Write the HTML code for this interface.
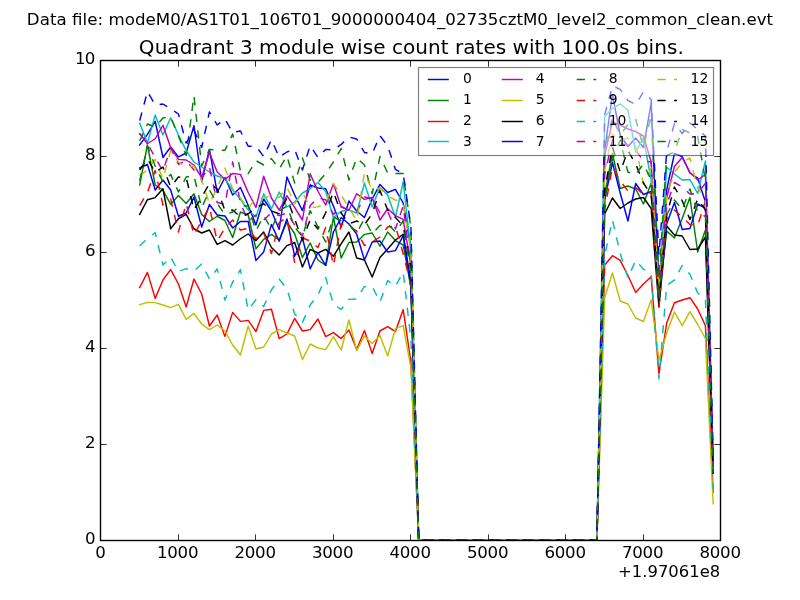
<!DOCTYPE html>
<html><head><meta charset="utf-8"><title>Quadrant 3 module wise count rates</title>
<style>html,body{margin:0;padding:0;background:#fff;}svg{display:block;}text{font-family:"DejaVu Sans","Liberation Sans",sans-serif;fill:#000;}</style></head><body>
<svg width="800" height="600" viewBox="0 0 800 600">
<rect width="800" height="600" fill="#fff"/>
<defs><clipPath id="ax"><rect x="100" y="60" width="620" height="480"/></clipPath></defs>
<g clip-path="url(#ax)" fill="none" stroke-width="1.45" stroke-linejoin="round">
<polyline points="139.68,145.00 147.43,134.40 155.18,121.25 162.93,157.50 170.68,147.00 178.43,156.90 186.18,153.00 193.93,125.60 201.68,181.25 209.43,149.40 217.18,192.50 224.93,177.50 232.68,195.00 240.43,187.50 248.18,205.30 255.93,225.00 263.68,199.00 271.43,211.00 279.18,229.50 286.93,177.00 294.68,195.00 302.43,210.60 310.18,185.00 317.93,188.00 325.68,188.75 333.43,206.00 341.18,227.00 348.93,201.00 356.68,211.00 364.43,217.50 372.18,199.00 379.93,184.40 387.68,192.50 395.43,189.40 403.18,203.00 410.93,247.77 418.68,540.00 596.93,540.00 604.68,150.00 612.43,94.50 620.18,135.00 627.93,146.50 635.68,138.00 643.43,147.50 651.18,103.00 658.93,285.00 666.68,190.00 674.43,153.50 682.18,156.50 689.93,173.00 697.68,178.00 705.43,202.00 713.18,468.00" stroke="#0000ff" stroke-linecap="square"/>
<polyline points="139.68,185.00 147.43,145.00 155.18,185.00 162.93,190.00 170.68,204.40 178.43,195.60 186.18,203.50 193.93,193.75 201.68,214.40 209.43,221.50 217.18,216.25 224.93,220.50 232.68,237.50 240.43,212.00 248.18,215.00 255.93,248.75 263.68,239.40 271.43,234.40 279.18,240.00 286.93,222.00 294.68,233.75 302.43,257.50 310.18,243.00 317.93,260.00 325.68,265.30 333.43,217.00 341.18,258.00 348.93,242.50 356.68,242.00 364.43,234.40 372.18,233.00 379.93,246.25 387.68,232.00 395.43,240.60 403.18,245.00 410.93,287.38 418.68,540.00 596.93,540.00 604.68,195.00 612.43,153.50 620.18,188.50 627.93,186.00 635.68,189.00 643.43,204.00 651.18,183.00 658.93,298.00 666.68,231.00 674.43,238.00 682.18,218.50 689.93,197.50 697.68,252.00 705.43,230.00 713.18,473.00" stroke="#008000" stroke-linecap="square"/>
<polyline points="139.68,287.60 147.43,272.40 155.18,298.40 162.93,280.00 170.68,269.60 178.43,284.00 186.18,307.00 193.93,279.00 201.68,294.00 209.43,326.00 217.18,315.00 224.93,336.40 232.68,312.40 240.43,321.40 248.18,320.40 255.93,331.60 263.68,310.40 271.43,309.20 279.18,338.60 286.93,334.00 294.68,318.40 302.43,331.00 310.18,329.60 317.93,319.00 325.68,336.60 333.43,332.60 341.18,338.60 348.93,330.00 356.68,349.60 364.43,330.60 372.18,353.60 379.93,331.00 387.68,326.60 395.43,331.60 403.18,309.60 410.93,362.00 418.68,540.00 596.93,540.00 604.68,265.00 612.43,255.70 620.18,260.30 627.93,275.50 635.68,292.50 643.43,284.00 651.18,276.70 658.93,374.00 666.68,323.00 674.43,302.80 682.18,300.00 689.93,297.70 697.68,309.00 705.43,325.70 713.18,492.00" stroke="#ff0000" stroke-linecap="square"/>
<polyline points="139.68,123.10 147.43,143.10 155.18,115.00 162.93,135.00 170.68,117.75 178.43,135.00 186.18,150.60 193.93,162.00 201.68,167.00 209.43,172.00 217.18,176.00 224.93,178.75 232.68,190.00 240.43,199.40 248.18,210.00 255.93,217.00 263.68,193.75 271.43,208.75 279.18,192.00 286.93,207.00 294.68,202.00 302.43,193.00 310.18,188.75 317.93,182.50 325.68,191.50 333.43,217.50 341.18,211.25 348.93,210.00 356.68,213.00 364.43,183.00 372.18,207.00 379.93,187.50 387.68,195.00 395.43,217.50 403.18,182.00 410.93,250.79 418.68,540.00 596.93,540.00 604.68,116.50 612.43,108.30 620.18,104.00 627.93,110.00 635.68,152.00 643.43,138.00 651.18,180.00 658.93,295.00 666.68,167.00 674.43,174.00 682.18,180.00 689.93,179.50 697.68,193.50 705.43,161.00 713.18,465.00" stroke="#00bfbf" stroke-linecap="square"/>
<polyline points="139.68,133.75 147.43,143.75 155.18,138.75 162.93,125.25 170.68,147.50 178.43,159.40 186.18,160.00 193.93,165.00 201.68,177.50 209.43,152.50 217.18,172.00 224.93,179.40 232.68,173.50 240.43,174.40 248.18,192.50 255.93,207.50 263.68,176.25 271.43,198.00 279.18,210.00 286.93,195.60 294.68,207.50 302.43,220.00 310.18,173.75 317.93,191.25 325.68,205.00 333.43,183.75 341.18,207.00 348.93,210.00 356.68,193.75 364.43,199.40 372.18,197.50 379.93,220.00 387.68,208.75 395.43,215.60 403.18,219.40 410.93,265.88 418.68,540.00 596.93,540.00 604.68,155.00 612.43,122.00 620.18,125.00 627.93,129.00 635.68,131.50 643.43,136.00 651.18,162.00 658.93,290.00 666.68,198.00 674.43,166.50 682.18,157.50 689.93,172.50 697.68,180.00 705.43,174.50 713.18,466.00" stroke="#bf00bf" stroke-linecap="square"/>
<polyline points="139.68,304.60 147.43,302.40 155.18,302.60 162.93,305.00 170.68,307.60 178.43,304.40 186.18,319.40 193.93,313.40 201.68,324.00 209.43,329.60 217.18,325.00 224.93,331.00 232.68,345.00 240.43,355.00 248.18,326.00 255.93,349.00 263.68,347.00 271.43,334.00 279.18,329.60 286.93,333.00 294.68,336.00 302.43,359.60 310.18,344.00 317.93,348.00 325.68,349.60 333.43,336.60 341.18,350.00 348.93,320.00 356.68,350.60 364.43,336.00 372.18,343.40 379.93,335.60 387.68,356.00 395.43,328.60 403.18,325.60 410.93,368.00 418.68,540.00 596.93,540.00 604.68,297.70 612.43,273.00 620.18,301.00 627.93,304.00 635.68,318.00 643.43,321.50 651.18,300.00 658.93,360.00 666.68,333.00 674.43,312.00 682.18,325.70 689.93,311.70 697.68,324.50 705.43,338.50 713.18,503.75" stroke="#bfbf00" stroke-linecap="square"/>
<polyline points="139.68,214.40 147.43,199.75 155.18,197.60 162.93,188.75 170.68,228.75 178.43,218.75 186.18,214.40 193.93,228.75 201.68,233.00 209.43,230.00 217.18,244.40 224.93,240.60 232.68,245.00 240.43,238.75 248.18,234.00 255.93,240.60 263.68,232.00 271.43,247.50 279.18,255.00 286.93,245.60 294.68,242.50 302.43,267.00 310.18,249.40 317.93,253.00 325.68,249.40 333.43,256.25 341.18,243.75 348.93,232.00 356.68,258.00 364.43,260.00 372.18,277.00 379.93,257.50 387.68,249.00 395.43,240.00 403.18,234.40 410.93,282.62 418.68,540.00 596.93,540.00 604.68,214.00 612.43,198.00 620.18,208.50 627.93,203.00 635.68,199.00 643.43,197.50 651.18,208.50 658.93,307.00 666.68,226.00 674.43,235.00 682.18,236.00 689.93,249.50 697.68,249.00 705.43,237.00 713.18,472.50" stroke="#000000" stroke-linecap="square"/>
<polyline points="139.68,168.00 147.43,164.50 155.18,190.00 162.93,180.00 170.68,190.00 178.43,216.25 186.18,213.00 193.93,197.00 201.68,227.00 209.43,204.50 217.18,215.00 224.93,216.00 232.68,228.00 240.43,221.50 248.18,221.50 255.93,260.60 263.68,251.90 271.43,224.40 279.18,241.25 286.93,219.00 294.68,256.25 302.43,238.00 310.18,268.75 317.93,252.50 325.68,265.50 333.43,232.00 341.18,217.50 348.93,224.00 356.68,234.00 364.43,260.00 372.18,242.00 379.93,241.00 387.68,252.00 395.43,250.60 403.18,235.60 410.93,287.63 418.68,540.00 596.93,540.00 604.68,200.00 612.43,162.50 620.18,193.00 627.93,221.00 635.68,183.50 643.43,194.50 651.18,191.50 658.93,300.00 666.68,224.00 674.43,202.50 682.18,229.50 689.93,228.50 697.68,204.00 705.43,208.00 713.18,472.00" stroke="#0000ff" stroke-linecap="square"/>
<polyline points="139.68,141.00 147.43,124.00 155.18,127.00 162.93,118.00 170.68,117.00 178.43,136.00 186.18,155.60 193.93,95.80 201.68,166.00 209.43,149.40 217.18,150.00 224.93,150.30 232.68,134.00 240.43,171.00 248.18,173.75 255.93,160.60 263.68,165.00 271.43,158.60 279.18,169.00 286.93,156.00 294.68,183.00 302.43,158.00 310.18,180.00 317.93,182.50 325.68,173.50 333.43,162.00 341.18,148.50 348.93,180.00 356.68,158.00 364.43,165.00 372.18,193.75 379.93,156.60 387.68,173.00 395.43,173.50 403.18,173.40 410.93,228.43 418.68,540.00 596.93,540.00 604.68,150.00 612.43,118.00 620.18,135.00 627.93,124.50 635.68,119.50 643.43,147.00 651.18,115.50 658.93,280.00 666.68,155.50 674.43,152.00 682.18,129.50 689.93,133.00 697.68,136.50 705.43,180.00 713.18,462.00" stroke="#008000" stroke-dasharray="8.33 8.33" stroke-linecap="butt"/>
<polyline points="139.68,205.60 147.43,192.50 155.18,170.50 162.93,205.00 170.68,199.00 178.43,232.00 186.18,203.50 193.93,235.00 201.68,220.60 209.43,207.00 217.18,241.00 224.93,228.00 232.68,220.00 240.43,230.00 248.18,228.50 255.93,238.75 263.68,233.00 271.43,253.50 279.18,222.50 286.93,217.50 294.68,263.00 302.43,238.00 310.18,241.00 317.93,247.50 325.68,227.50 333.43,265.60 341.18,223.75 348.93,225.60 356.68,231.00 364.43,245.60 372.18,242.00 379.93,237.00 387.68,227.00 395.43,226.00 403.18,253.75 410.93,285.00 418.68,540.00 596.93,540.00 604.68,210.00 612.43,167.00 620.18,181.00 627.93,191.00 635.68,187.50 643.43,194.50 651.18,192.50 658.93,307.00 666.68,219.00 674.43,210.00 682.18,217.00 689.93,224.50 697.68,225.50 705.43,201.00 713.18,476.00" stroke="#ff0000" stroke-dasharray="8.33 8.33" stroke-linecap="butt"/>
<polyline points="139.68,246.00 147.43,238.50 155.18,232.70 162.93,265.00 170.68,257.00 178.43,271.60 186.18,268.60 193.93,271.00 201.68,264.00 209.43,279.00 217.18,269.00 224.93,300.00 232.68,282.00 240.43,269.60 248.18,310.00 255.93,299.60 263.68,306.40 271.43,290.00 279.18,279.00 286.93,289.00 294.68,314.00 302.43,322.40 310.18,305.00 317.93,295.00 325.68,277.60 333.43,304.40 341.18,309.40 348.93,299.40 356.68,299.00 364.43,286.40 372.18,286.40 379.93,302.00 387.68,280.60 395.43,286.40 403.18,272.00 410.93,340.00 418.68,540.00 596.93,540.00 604.68,255.70 612.43,220.00 620.18,253.30 627.93,277.80 635.68,260.30 643.43,269.20 651.18,273.90 658.93,379.00 666.68,285.50 674.43,280.20 682.18,265.50 689.93,274.30 697.68,293.00 705.43,298.80 713.18,489.00" stroke="#00bfbf" stroke-dasharray="8.33 8.33" stroke-linecap="butt"/>
<polyline points="139.68,133.50 147.43,143.50 155.18,157.50 162.93,171.00 170.68,148.00 178.43,164.40 186.18,160.60 193.93,170.00 201.68,178.00 209.43,167.00 217.18,202.50 224.93,204.40 232.68,162.00 240.43,203.00 248.18,221.00 255.93,215.00 263.68,220.00 271.43,212.50 279.18,215.60 286.93,213.00 294.68,225.00 302.43,236.00 310.18,205.50 317.93,198.00 325.68,199.75 333.43,214.40 341.18,206.00 348.93,211.00 356.68,212.00 364.43,197.00 372.18,198.40 379.93,213.00 387.68,211.50 395.43,229.00 403.18,206.00 410.93,265.88 418.68,540.00 596.93,540.00 604.68,175.00 612.43,140.00 620.18,143.50 627.93,145.00 635.68,150.00 643.43,161.00 651.18,162.00 658.93,295.00 666.68,205.00 674.43,182.50 682.18,187.00 689.93,194.00 697.68,194.00 705.43,183.00 713.18,470.00" stroke="#bf00bf" stroke-dasharray="8.33 8.33" stroke-linecap="butt"/>
<polyline points="139.68,175.60 147.43,170.00 155.18,159.40 162.93,179.00 170.68,150.60 178.43,162.00 186.18,167.00 193.93,166.00 201.68,180.00 209.43,203.75 217.18,188.00 224.93,168.00 232.68,188.75 240.43,198.00 248.18,208.75 255.93,197.50 263.68,198.00 271.43,195.60 279.18,197.50 286.93,187.25 294.68,203.75 302.43,192.50 310.18,207.50 317.93,206.90 325.68,203.00 333.43,183.75 341.18,195.00 348.93,208.00 356.68,220.60 364.43,173.00 372.18,190.00 379.93,188.00 387.68,196.00 395.43,200.00 403.18,203.00 410.93,252.27 418.68,540.00 596.93,540.00 604.68,170.00 612.43,134.00 620.18,141.00 627.93,138.00 635.68,146.00 643.43,184.00 651.18,168.00 658.93,290.00 666.68,195.00 674.43,172.50 682.18,162.50 689.93,158.00 697.68,188.00 705.43,198.00 713.18,470.00" stroke="#bfbf00" stroke-dasharray="8.33 8.33" stroke-linecap="butt"/>
<polyline points="139.68,170.00 147.43,158.75 155.18,172.50 162.93,167.00 170.68,187.00 178.43,177.00 186.18,177.50 193.93,210.00 201.68,197.00 209.43,183.75 217.18,188.75 224.93,210.60 232.68,210.00 240.43,217.00 248.18,213.75 255.93,208.00 263.68,203.75 271.43,211.00 279.18,213.75 286.93,198.00 294.68,219.00 302.43,240.60 310.18,219.50 317.93,229.00 325.68,212.75 333.43,192.00 341.18,213.00 348.93,223.75 356.68,221.00 364.43,224.75 372.18,213.75 379.93,190.60 387.68,210.00 395.43,217.50 403.18,226.00 410.93,269.49 418.68,540.00 596.93,540.00 604.68,190.00 612.43,147.00 620.18,172.00 627.93,150.50 635.68,164.00 643.43,183.00 651.18,195.00 658.93,300.00 666.68,215.00 674.43,187.00 682.18,200.75 689.93,219.50 697.68,199.00 705.43,210.00 713.18,474.00" stroke="#000000" stroke-dasharray="8.33 8.33" stroke-linecap="butt"/>
<polyline points="139.68,120.60 147.43,91.60 155.18,105.00 162.93,104.00 170.68,108.90 178.43,114.00 186.18,143.00 193.93,130.00 201.68,147.50 209.43,111.90 217.18,125.00 224.93,119.00 232.68,132.50 240.43,131.00 248.18,146.25 255.93,146.25 263.68,156.50 271.43,139.75 279.18,157.25 286.93,152.00 294.68,149.40 302.43,170.00 310.18,145.60 317.93,157.50 325.68,149.40 333.43,150.00 341.18,144.40 348.93,137.00 356.68,139.00 364.43,152.50 372.18,153.75 379.93,135.60 387.68,146.00 395.43,169.40 403.18,173.75 410.93,226.84 418.68,540.00 596.93,540.00 604.68,115.00 612.43,86.00 620.18,89.30 627.93,100.50 635.68,104.50 643.43,92.00 651.18,99.50 658.93,255.00 666.68,152.00 674.43,123.60 682.18,133.50 689.93,123.00 697.68,129.50 705.43,136.00 713.18,458.00" stroke="#0000ff" stroke-dasharray="8.33 8.33" stroke-linecap="butt"/>
<polyline points="139.68,181.00 147.43,146.00 155.18,166.00 162.93,182.00 170.68,174.40 178.43,192.00 186.18,177.00 193.93,175.60 201.68,208.00 209.43,190.00 217.18,203.50 224.93,214.50 232.68,212.00 240.43,205.60 248.18,206.00 255.93,231.00 263.68,215.60 271.43,229.00 279.18,211.00 286.93,206.00 294.68,227.00 302.43,237.00 310.18,210.60 317.93,227.00 325.68,242.00 333.43,217.00 341.18,221.00 348.93,224.00 356.68,233.00 364.43,218.75 372.18,234.00 379.93,225.60 387.68,223.75 395.43,232.00 403.18,221.00 410.93,273.52 418.68,540.00 596.93,540.00 604.68,200.00 612.43,160.00 620.18,140.00 627.93,172.00 635.68,174.50 643.43,164.00 651.18,180.00 658.93,300.00 666.68,215.00 674.43,200.00 682.18,209.75 689.93,189.00 697.68,212.00 705.43,216.50 713.18,475.00" stroke="#008000" stroke-dasharray="8.33 8.33" stroke-linecap="butt"/>
</g>
<rect x="100.5" y="60.5" width="620" height="480" fill="none" stroke="#000" stroke-width="1.39"/>
<path d="M100.5,540.5v-6.2M100.5,60.5v6.2M178.5,540.5v-6.2M178.5,60.5v6.2M255.5,540.5v-6.2M255.5,60.5v6.2M333.5,540.5v-6.2M333.5,60.5v6.2M410.5,540.5v-6.2M410.5,60.5v6.2M488.5,540.5v-6.2M488.5,60.5v6.2M565.5,540.5v-6.2M565.5,60.5v6.2M643.5,540.5v-6.2M643.5,60.5v6.2M720.5,540.5v-6.2M720.5,60.5v6.2M100.5,540.5h6.2M720.5,540.5h-6.2M100.5,444.5h6.2M720.5,444.5h-6.2M100.5,348.5h6.2M720.5,348.5h-6.2M100.5,252.5h6.2M720.5,252.5h-6.2M100.5,156.5h6.2M720.5,156.5h-6.2M100.5,60.5h6.2M720.5,60.5h-6.2" stroke="#000" stroke-width="0.8" fill="none"/>
<text x="100.60" y="558.3" font-size="16.67" text-anchor="middle">0</text>
<text x="157.00" y="558.3" font-size="16.67" textLength="41.5" lengthAdjust="spacing">1000</text>
<text x="234.50" y="558.3" font-size="16.67" textLength="41.5" lengthAdjust="spacing">2000</text>
<text x="312.00" y="558.3" font-size="16.67" textLength="41.5" lengthAdjust="spacing">3000</text>
<text x="389.50" y="558.3" font-size="16.67" textLength="41.5" lengthAdjust="spacing">4000</text>
<text x="467.00" y="558.3" font-size="16.67" textLength="41.5" lengthAdjust="spacing">5000</text>
<text x="544.50" y="558.3" font-size="16.67" textLength="41.5" lengthAdjust="spacing">6000</text>
<text x="622.00" y="558.3" font-size="16.67" textLength="41.5" lengthAdjust="spacing">7000</text>
<text x="699.50" y="558.3" font-size="16.67" textLength="41.5" lengthAdjust="spacing">8000</text>
<text x="95.6" y="544.10" font-size="16.67" text-anchor="end">0</text>
<text x="95.6" y="448.10" font-size="16.67" text-anchor="end">2</text>
<text x="95.6" y="352.10" font-size="16.67" text-anchor="end">4</text>
<text x="95.6" y="256.10" font-size="16.67" text-anchor="end">6</text>
<text x="95.6" y="160.10" font-size="16.67" text-anchor="end">8</text>
<text x="74.9" y="64.10" font-size="16.67" textLength="20.4" lengthAdjust="spacing">10</text>
<text x="720.2" y="576.6" font-size="16.42" text-anchor="end">+1.97061e8</text>
<text x="138.85" y="53.6" font-size="20" textLength="544.9" lengthAdjust="spacing">Quadrant 3 module wise count rates with 100.0s bins.</text>
<text x="26.85" y="24.5" font-size="16.67" textLength="746.25" lengthAdjust="spacing">Data file: modeM0/AS1T01_106T01_9000000404_02735cztM0_level2_common_clean.evt</text>
<rect x="418.5" y="67.5" width="295" height="88" fill="#fff" fill-opacity="0.5" stroke="#000" stroke-opacity="0.5" stroke-width="1.15"/>
<path d="M428.5,79.5h19.6" stroke="#0000ff" stroke-width="1.45" fill="none" stroke-linecap="square"/>
<text x="462.9" y="83.0" font-size="13.89">0</text>
<path d="M428.5,100.5h19.6" stroke="#008000" stroke-width="1.45" fill="none" stroke-linecap="square"/>
<text x="462.9" y="104.0" font-size="13.89">1</text>
<path d="M428.5,121.5h19.6" stroke="#ff0000" stroke-width="1.45" fill="none" stroke-linecap="square"/>
<text x="462.9" y="125.0" font-size="13.89">2</text>
<path d="M428.5,141.5h19.6" stroke="#00bfbf" stroke-width="1.45" fill="none" stroke-linecap="square"/>
<text x="462.9" y="146.0" font-size="13.89">3</text>
<path d="M502.5,79.5h19.6" stroke="#bf00bf" stroke-width="1.45" fill="none" stroke-linecap="square"/>
<text x="535.8" y="83.0" font-size="13.89">4</text>
<path d="M502.5,100.5h19.6" stroke="#bfbf00" stroke-width="1.45" fill="none" stroke-linecap="square"/>
<text x="535.8" y="104.0" font-size="13.89">5</text>
<path d="M502.5,121.5h19.6" stroke="#000000" stroke-width="1.45" fill="none" stroke-linecap="square"/>
<text x="535.8" y="125.0" font-size="13.89">6</text>
<path d="M502.5,141.5h19.6" stroke="#0000ff" stroke-width="1.45" fill="none" stroke-linecap="square"/>
<text x="535.8" y="146.0" font-size="13.89">7</text>
<path d="M576.7,79.5h19.6" stroke="#008000" stroke-width="1.45" fill="none" stroke-dasharray="8.33 8.33"/>
<text x="608.8" y="83.0" font-size="13.89">8</text>
<path d="M576.7,100.5h19.6" stroke="#ff0000" stroke-width="1.45" fill="none" stroke-dasharray="8.33 8.33"/>
<text x="608.8" y="104.0" font-size="13.89">9</text>
<path d="M576.7,121.5h19.6" stroke="#00bfbf" stroke-width="1.45" fill="none" stroke-dasharray="8.33 8.33"/>
<text x="608.8" y="125.0" font-size="13.89">10</text>
<path d="M576.7,141.5h19.6" stroke="#bf00bf" stroke-width="1.45" fill="none" stroke-dasharray="8.33 8.33"/>
<text x="608.8" y="146.0" font-size="13.89">11</text>
<path d="M657.4,79.5h19.6" stroke="#bfbf00" stroke-width="1.45" fill="none" stroke-dasharray="8.33 8.33"/>
<text x="690.6" y="83.0" font-size="13.89">12</text>
<path d="M657.4,100.5h19.6" stroke="#000000" stroke-width="1.45" fill="none" stroke-dasharray="8.33 8.33"/>
<text x="690.6" y="104.0" font-size="13.89">13</text>
<path d="M657.4,121.5h19.6" stroke="#0000ff" stroke-width="1.45" fill="none" stroke-dasharray="8.33 8.33"/>
<text x="690.6" y="125.0" font-size="13.89">14</text>
<path d="M657.4,141.5h19.6" stroke="#008000" stroke-width="1.45" fill="none" stroke-dasharray="8.33 8.33"/>
<text x="690.6" y="146.0" font-size="13.89">15</text>
</svg></body></html>
